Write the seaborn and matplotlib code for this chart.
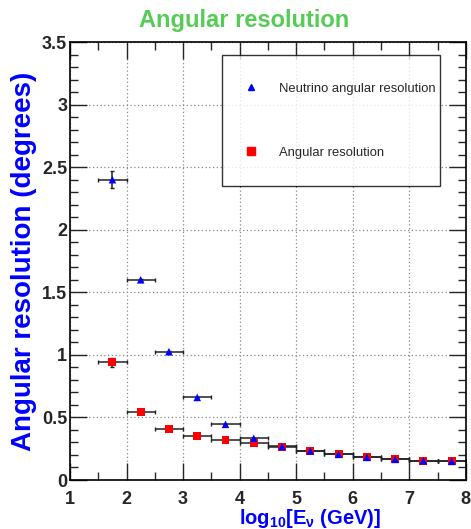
import numpy as np
import pandas as pd
import matplotlib
matplotlib.use("Agg")
import matplotlib.pyplot as plt
import seaborn as sns
from matplotlib.lines import Line2D
from matplotlib.ticker import MultipleLocator

# data
log_e = [1.75, 2.25, 2.75, 3.25, 3.75, 4.25, 4.75, 5.25, 5.75, 6.25, 6.75, 7.25, 7.75]
bin_half_width = [0.25] * 13
nu_res = [2.40, 1.60, 1.025, 0.66, 0.445, 0.333, 0.268, 0.232, 0.205, 0.181, 0.165, 0.154, 0.149]
nu_err = [0.066, 0.01, 0.008, 0.006, 0.005, 0.004, 0.004, 0.003, 0.003, 0.003, 0.003, 0.003, 0.003]
ang_res = [0.94, 0.546, 0.408, 0.349, 0.32, 0.293, 0.266, 0.232, 0.205, 0.181, 0.165, 0.154, 0.149]
ang_err = [0.035, 0.01, 0.008, 0.006, 0.005, 0.004, 0.004, 0.003, 0.003, 0.003, 0.003, 0.003, 0.003]
series_names = ["Neutrino angular resolution", "Angular resolution"]
y_ticks = [0, 0.5, 1, 1.5, 2, 2.5, 3, 3.5]
y_tick_labels = ["0", "0.5", "1", "1.5", "2", "2.5", "3", "3.5"]

sns.set_style("ticks")
plt.rcParams['font.family'] = ['Liberation Sans', 'DejaVu Sans']
plt.rcParams['mathtext.fontset'] = 'custom'
plt.rcParams['mathtext.rm'] = 'Liberation Sans:bold'
plt.rcParams['mathtext.bf'] = 'Liberation Sans:bold'
plt.rcParams['mathtext.it'] = 'Liberation Sans:bold'

fig = plt.figure(figsize=(4.71, 5.29), dpi=100)
ax = fig.add_axes([0.1486, 0.0926, 0.8404, 0.828])

df = pd.DataFrame({
    "x": log_e * 2,
    "y": ang_res + nu_res,
    "series": [series_names[1]] * 13 + [series_names[0]] * 13,
})

# error bars
ax.errorbar(log_e, ang_res, xerr=bin_half_width, yerr=ang_err, fmt='none',
            ecolor='#222222', elinewidth=1.1, capsize=1.5, capthick=1.0, zorder=2)
ax.errorbar(log_e, nu_res, xerr=bin_half_width, yerr=nu_err, fmt='none',
            ecolor='#222222', elinewidth=1.1, capsize=1.5, capthick=1.0, zorder=2)

sns.scatterplot(data=df, x="x", y="y", hue="series", style="series", size="series",
                palette={series_names[0]: "#0000ff", series_names[1]: "#ff0000"},
                markers={series_names[0]: "^", series_names[1]: "s"},
                sizes={series_names[0]: 30, series_names[1]: 32},
                hue_order=[series_names[1], series_names[0]],
                edgecolor='none', legend=False, ax=ax, zorder=3)

ax.set_xlim(1, 8)
ax.set_ylim(0, 3.5)
ax.xaxis.set_major_locator(MultipleLocator(1))
ax.xaxis.set_minor_locator(MultipleLocator(0.5))
ax.yaxis.set_minor_locator(MultipleLocator(0.1))
ax.set_yticks(y_ticks)
ax.set_yticklabels(y_tick_labels)
ax.tick_params(which='both', direction='in', top=True, right=True, width=1.0)
ax.tick_params(which='major', length=12, labelsize=13)
ax.tick_params(axis='y', which='major', pad=2)
ax.tick_params(axis='x', which='major', pad=8)
ax.tick_params(which='minor', length=6)
for lab in ax.get_xticklabels() + ax.get_yticklabels():
    lab.set_fontweight('bold')
ax.grid(True, which='major', linestyle=(0, (1, 2)), color='#888888', linewidth=0.9)
for s in ax.spines.values():
    s.set_linewidth(1.2)
    s.set_color('black')

ax.set_xlabel(r"log$_{10}$[E$_{\nu}$ (GeV)]", color='#0000ff', fontsize=14.5,
              fontweight='bold', va='baseline')
ax.xaxis.set_label_coords(0.606, -0.1)
ax.set_ylabel("Angular resolution (degrees)", color='#0000ff', fontsize=20,
              fontweight='bold')
ax.yaxis.set_label_coords(-0.083, 0.5)
fig.text(0.519, 0.962, "Angular resolution", color='#55cc55', fontsize=17,
         fontweight='bold', ha='center', va='center')

handles = [
    Line2D([], [], marker='^', color='#0000ff', linestyle='none', markersize=5),
    Line2D([], [], marker='s', color='#ff0000', linestyle='none', markersize=5.5),
]
leg = ax.legend(handles, series_names, loc='upper left',
                bbox_to_anchor=(0.384, 0.671, 0.55, 0.299), mode='expand',
                frameon=True, fancybox=False, fontsize=9.4, labelspacing=4.0,
                borderpad=2.1, handletextpad=2.1, handlelength=0.2,
                borderaxespad=0)
leg.get_frame().set_edgecolor('black')
leg.get_frame().set_linewidth(1.0)

fig.savefig("out.png", dpi=100)
